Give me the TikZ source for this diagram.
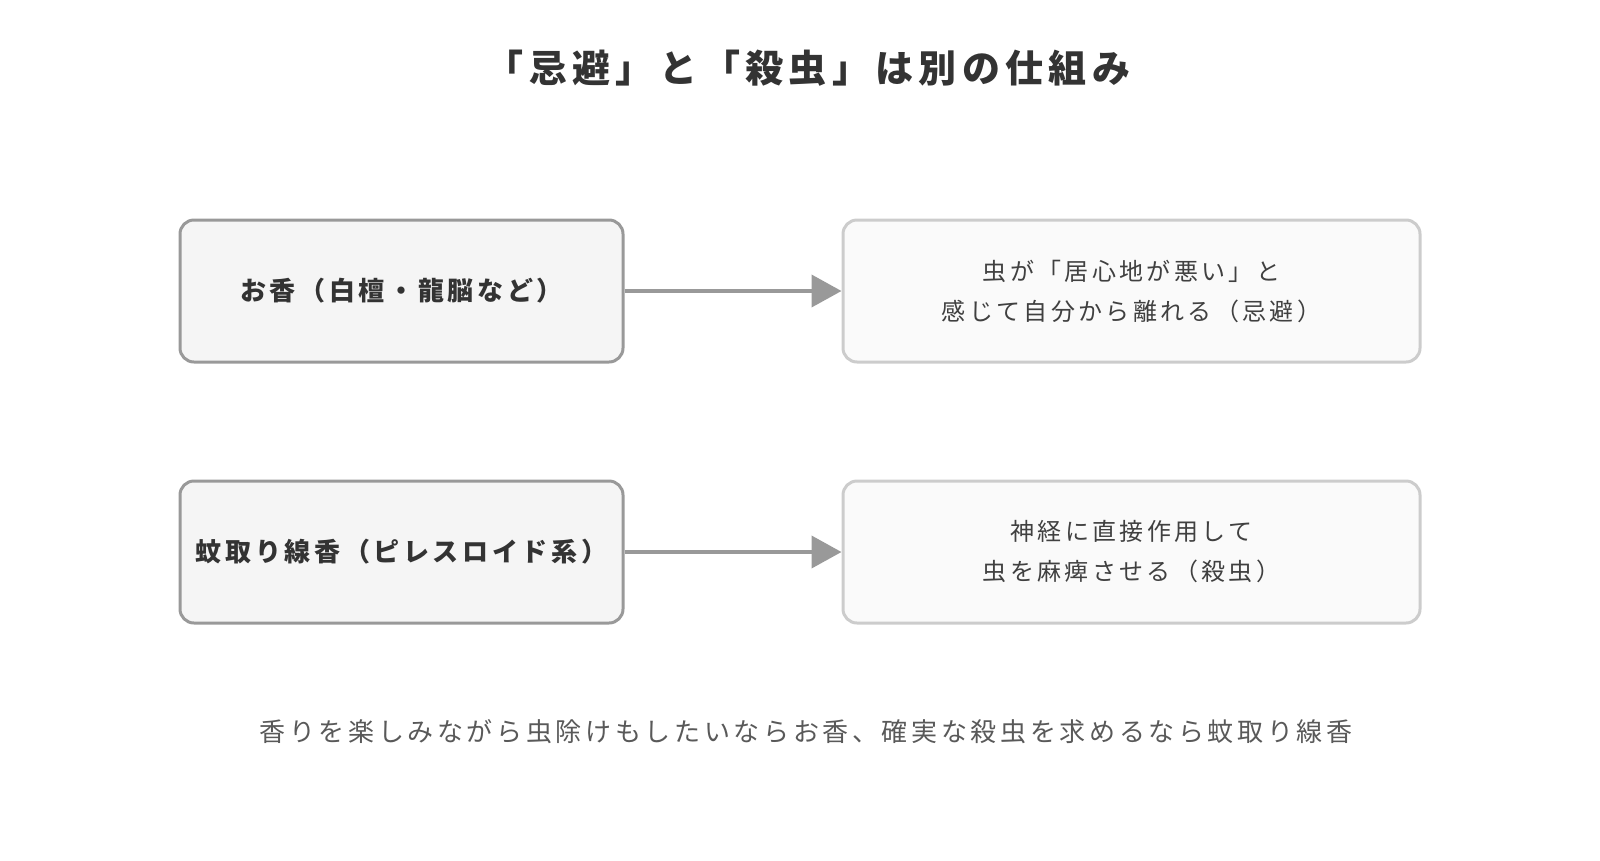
\documentclass[tikz,border=0pt]{standalone}
\usepackage{fontspec}
\setmainfont{Noto Sans CJK JP}[LetterSpace=14]
\usetikzlibrary{arrows.meta}
\definecolor{lbd}{HTML}{999999}
\definecolor{rbd}{HTML}{CCCCCC}
\begin{document}
\begin{tikzpicture}[x=1pt,y=-1pt,
 lb/.style={draw=lbd,line width=3pt,fill=black!4,rounded corners=14pt,minimum width=443pt,minimum height=142pt,font=\fontsize{26}{34}\selectfont\bfseries,text=black!80},
 rb/.style={draw=rbd,line width=3pt,fill=black!2,rounded corners=14pt,minimum width=577pt,minimum height=142pt,font=\fontsize{24}{40}\selectfont,text=black!75,align=center},
 ar/.style={draw=lbd,line width=4pt,-{Triangle[length=30pt,width=32pt]}}]
\useasboundingbox (0,0) rectangle (1600,860);
\node[font=\fontsize{38}{44}\selectfont\bfseries,text=black!80] (t) at (808,68) {「忌避」と「殺虫」は別の仕組み};
\node[lb] (a1) at (401.5,291) {お香（白檀・龍脳など）};
\node[rb] (b1) at (1131.5,291) {虫が「居心地が悪い」と\\感じて自分から離れる（忌避）};
\node[lb] (a2) at (401.5,552) {蚊取り線香（ピレスロイド系）};
\node[rb] (b2) at (1131.5,552) {神経に直接作用して\\虫を麻痺させる（殺虫）};
\draw[ar] (a1) -- (b1);
\draw[ar] (a2) -- (b2);
\node[font=\fontsize{26}{30}\selectfont,text=black!65] (n) at (806,732) {香りを楽しみながら虫除けもしたいならお香、確実な殺虫を求めるなら蚊取り線香};
\end{tikzpicture}
\end{document}
